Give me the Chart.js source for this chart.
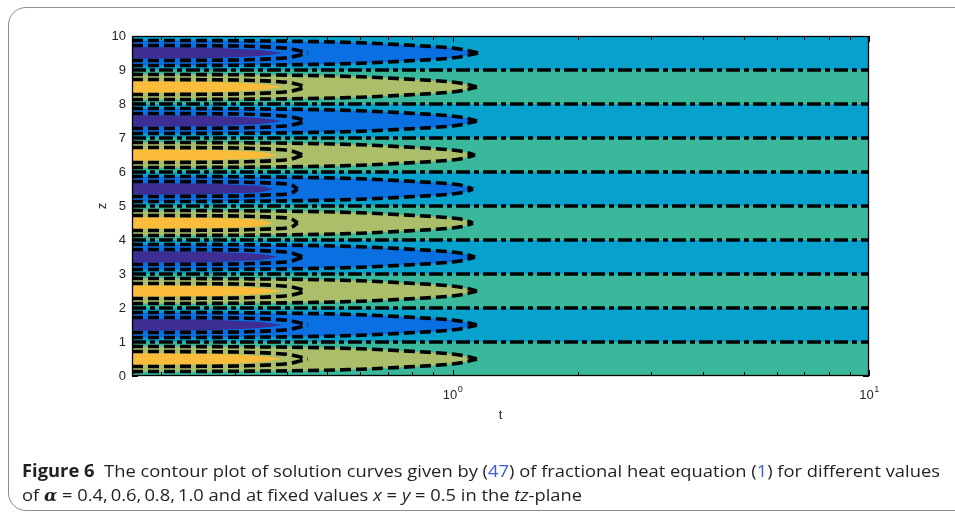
<!DOCTYPE html>
<html><head><meta charset="utf-8">
<script src="https://cdn.jsdelivr.net/npm/chart.js@4.4.1/dist/chart.umd.min.js"></script>
<style>
html,body{margin:0;padding:0;background:#fff;width:955px;height:514px;overflow:hidden;}
#frame{position:absolute;left:8px;top:7px;width:990px;height:504px;border:1px solid #8c8c8c;border-radius:18px;box-sizing:border-box;}
#wrap{position:absolute;left:0;top:0;width:955px;height:514px;}
.cap{position:absolute;left:22px;font-family:"Open Sans",sans-serif;font-size:17px;color:#231f20;white-space:nowrap;transform-origin:0 0;}
.ref{color:#3b5bd8;}
.al{font-family:"DejaVu Serif",serif;font-style:italic;font-weight:bold;font-size:16px;}
</style></head>
<body>
<div id="frame"></div>
<div id="wrap"><canvas id="c" width="955" height="514"></canvas></div>
<div class="cap" id="l1" style="top:459px"><b>Figure 6</b>&nbsp; The contour plot of solution curves given by (<span class="ref">47</span>) of fractional heat equation (<span class="ref">1</span>) for different values</div>
<div class="cap" id="l2" style="top:483px">of <span class="al">α</span> = 0.4,&#8201;0.6,&#8201;0.8,&#8201;1.0 and at fixed values <i>x</i> = <i>y</i> = 0.5 in the <i>tz</i>-plane</div>
<script>
// ---------- data ----------
const tMin = 0.17, tMax = 10;
const zMin = 0, zMax = 10;
const bandLower = [0,1,2,3,4,5,6,7,8,9];           // z bands [k, k+1]
const bandCenters = [0.5,1.5,2.5,3.5,4.5,5.5,6.5,7.5,8.5,9.5];
const bandPositive = [true,false,true,false,true,false,true,false,true,false];
const zeroLevels = [1,2,3,4,5,6,7,8,9];
// outer lens (level 1) half-width profile
const outerT    = [0.17,0.25,0.35,0.45,0.6,0.75,0.9,1.0,1.07];
const outerHalf = [0.37,0.365,0.355,0.34,0.30,0.245,0.19,0.145,0.09];
const outerTip  = [1.145,1.145,1.145,1.133,1.12,1.12,1.133,1.145,1.145,1.152];
// inner lens contour line
const innerLineT    = [0.17,0.25,0.32,0.37,0.41];
const innerLineHalf = [0.22,0.215,0.20,0.17,0.12];
const innerLineTip  = [0.449,0.449,0.447,0.437,0.425,0.425,0.437,0.447,0.447,0.449];
// inner lens filled region (level 2)
const innerFillT    = [0.17,0.22,0.27,0.31,0.35];
const innerFillHalf = [0.17,0.165,0.15,0.12,0.08];
const innerFillTip  = [0.39,0.39,0.39,0.38,0.37,0.37,0.38,0.39,0.39,0.39];
// axes
const yTicks = [0,1,2,3,4,5,6,7,8,9,10];
const xMajorTicks = [1,10];
const xMajorLabels = [['10','0'],['10','1']];
const xMinorTicks = [0.2,0.3,0.4,0.5,0.6,0.7,0.8,0.9,2,3,4,5,6,7,8,9];

// parula-like colours
const C = {
  purple:'#3c2e93', blue:'#0a6fe0', cyan:'#06a1cc',
  teal:'#39b89b', olive:'#abbe6a', yellow:'#fbbc3b', line:'#000000'
};

function edge(c, ts, hs, tip, s){
  const pts = ts.map((t,i)=>({x:t, y:c + s*hs[i]}));
  pts.push({x:tip, y:c});
  return pts;
}

const datasets = [];
const base = {pointRadius:0, pointHoverRadius:0, cubicInterpolationMode:'monotone', spanGaps:true};

// contour lines on top (order 0)
zeroLevels.forEach(z=>{
  datasets.push(Object.assign({}, base, {data:[{x:tMin,y:z},{x:tMax,y:z}], borderColor:C.line, borderWidth:3.6, borderDash:[14,4,5,4], fill:false, order:0}));
});
bandCenters.forEach((c,i)=>{
  [1,-1].forEach(s=>{
    datasets.push(Object.assign({}, base, {data:edge(c,outerT,outerHalf,outerTip[i],s), borderColor:C.line, borderWidth:3.6, borderDash:[11,5], fill:false, order:0}));
    datasets.push(Object.assign({}, base, {data:edge(c,innerLineT,innerLineHalf,innerLineTip[i],s), borderColor:C.line, borderWidth:3.6, borderDash:[11,5], fill:false, order:0}));
  });
});
// inner filled lenses (order 1)
bandCenters.forEach((c,i)=>{
  const col = bandPositive[i] ? C.yellow : C.purple;
  datasets.push(Object.assign({}, base, {data:edge(c,innerFillT,innerFillHalf,innerFillTip[i],1), borderWidth:0, backgroundColor:col, fill:'+1', order:1}));
  datasets.push(Object.assign({}, base, {data:edge(c,innerFillT,innerFillHalf,innerFillTip[i],-1), borderWidth:0, fill:false, order:1}));
});
// outer filled lenses (order 2)
bandCenters.forEach((c,i)=>{
  const col = bandPositive[i] ? C.olive : C.blue;
  datasets.push(Object.assign({}, base, {data:edge(c,outerT,outerHalf,outerTip[i],1), borderWidth:0, backgroundColor:col, fill:'+1', order:2}));
  datasets.push(Object.assign({}, base, {data:edge(c,outerT,outerHalf,outerTip[i],-1), borderWidth:0, fill:false, order:2}));
});
// background bands (order 3)
bandLower.forEach((k,i)=>{
  const col = bandPositive[i] ? C.teal : C.cyan;
  datasets.push(Object.assign({}, base, {data:[{x:tMin,y:k+1},{x:tMax,y:k+1}], borderWidth:0, backgroundColor:col, fill:{value:k}, order:3}));
});

const FONT = '"Liberation Sans", Arial, sans-serif';
const decor = {
  id:'decor',
  afterDatasetsDraw(chart){
    const {ctx, chartArea:a, scales:{x,y}} = chart;
    ctx.save();
    ctx.strokeStyle = '#000'; ctx.lineWidth = 1;
    ctx.beginPath();
    yTicks.forEach(v=>{
      const py = Math.round(y.getPixelForValue(v))+0.5;
      ctx.moveTo(a.left,py); ctx.lineTo(a.left+6,py);
      ctx.moveTo(a.right,py); ctx.lineTo(a.right-6,py);
    });
    xMajorTicks.forEach(v=>{
      const px = Math.round(x.getPixelForValue(v))+0.5;
      ctx.moveTo(px,a.bottom); ctx.lineTo(px,a.bottom-6);
      ctx.moveTo(px,a.top); ctx.lineTo(px,a.top+6);
    });
    xMinorTicks.forEach(v=>{
      const px = Math.round(x.getPixelForValue(v))+0.5;
      ctx.moveTo(px,a.bottom); ctx.lineTo(px,a.bottom-4);
      ctx.moveTo(px,a.top); ctx.lineTo(px,a.top+4);
    });
    ctx.stroke();
    ctx.lineWidth = 1.3;
    ctx.strokeRect(a.left+0.5, a.top+0.5, a.right-a.left-1, a.bottom-a.top-1);
    // x tick labels with superscript
    ctx.fillStyle = '#262626';
    ctx.textBaseline = 'alphabetic';
    xMajorTicks.forEach((v,i)=>{
      const px = x.getPixelForValue(v);
      ctx.font = '13px '+FONT;
      const w1 = ctx.measureText(xMajorLabels[i][0]).width;
      ctx.font = '9px '+FONT;
      const w2 = ctx.measureText(xMajorLabels[i][1]).width;
      const x0 = px - (w1+w2)/2;
      ctx.font = '13px '+FONT; ctx.textAlign='left';
      ctx.fillText(xMajorLabels[i][0], x0, a.bottom+23);
      ctx.font = '9px '+FONT;
      ctx.fillText(xMajorLabels[i][1], x0+w1+0.5, a.bottom+16);
    });
    // axis titles
    ctx.font = '13px '+FONT; ctx.textAlign='center'; ctx.textBaseline='middle';
    ctx.fillText('t', (a.left+a.right)/2, a.bottom+39);
    ctx.save();
    ctx.translate(a.left-30, (a.top+a.bottom)/2);
    ctx.rotate(-Math.PI/2);
    ctx.fillText('z', 0, 0);
    ctx.restore();
    ctx.restore();
  }
};

new Chart(document.getElementById('c'), {
  type:'line',
  data:{datasets},
  options:{
    responsive:false, animation:false, events:[],
    layout:{padding:{left:92, right:86, top:36, bottom:118}},
    plugins:{legend:{display:false}, tooltip:{enabled:false}, filler:{drawTime:'beforeDatasetsDraw', propagate:false}},
    scales:{
      x:{type:'logarithmic', min:tMin, max:tMax, grid:{display:false}, border:{display:false}, ticks:{display:false},
         afterFit(s){ s.height = 20; }},
      y:{type:'linear', min:zMin, max:zMax, grid:{display:false, drawTicks:false}, border:{display:false},
         ticks:{stepSize:1, padding:6, color:'#262626', font:{family:FONT, size:13}},
         afterFit(s){ s.width = 40; }}
    }
  },
  plugins:[decor]
});

// fit caption widths
function fit(id, target){
  const el = document.getElementById(id);
  const w = el.getBoundingClientRect().width;
  el.style.transform = 'scaleX('+(target/w)+')';
}
fit('l1', 918); fit('l2', 560);
</script>
</body></html>
